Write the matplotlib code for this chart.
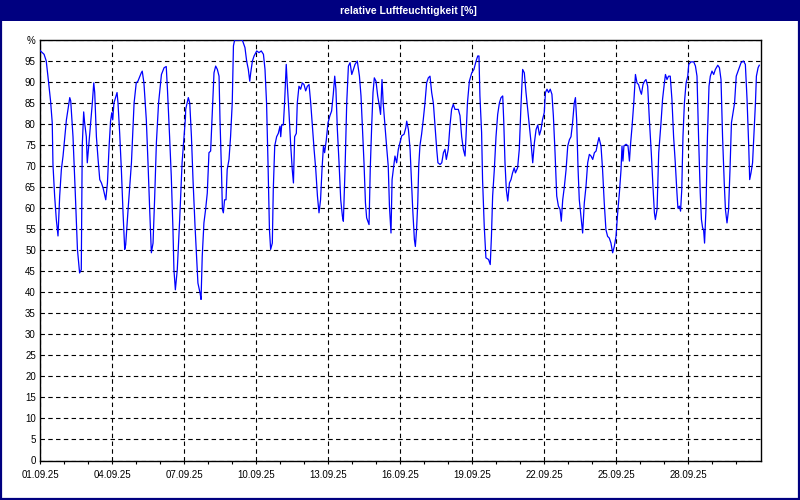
import matplotlib.pyplot as plt
from matplotlib.patches import Rectangle

# Tage seit 01.09.25 00:00 und relative Luftfeuchtigkeit in %
tage = [
    0.0, 0.17, 0.26, 0.33, 0.44, 0.51, 0.54, 0.61, 0.68, 0.75, 0.82, 0.89, 0.96,
    1.1, 1.24, 1.28, 1.375, 1.47, 1.56, 1.65, 1.72, 1.76, 1.82, 1.86, 1.93, 1.97,
    2.03, 2.11, 2.18, 2.24, 2.28, 2.35, 2.42, 2.49, 2.56, 2.63, 2.69, 2.74, 2.81,
    2.88, 2.94, 2.99, 3.03, 3.08, 3.21, 3.25, 3.32, 3.39, 3.46, 3.53, 3.57, 3.67,
    3.81, 3.92, 4.01, 4.08, 4.22, 4.26, 4.33, 4.43, 4.5, 4.57, 4.64, 4.71, 4.78,
    4.85, 4.94, 5.06, 5.17, 5.26, 5.31, 5.4, 5.47, 5.54, 5.58, 5.64, 5.72, 5.82,
    5.92, 5.99, 6.06, 6.07, 6.18, 6.24, 6.31, 6.375, 6.46, 6.53, 6.58, 6.67, 6.71,
    6.76, 6.83, 6.9, 6.97, 7.04, 7.11, 7.18, 7.25, 7.32, 7.39, 7.46, 7.5, 7.56,
    7.6, 7.64, 7.69, 7.75, 7.8, 7.875, 7.94, 8.01, 8.06, 8.11, 8.43, 8.54, 8.61,
    8.68, 8.74, 8.78, 8.85, 8.92, 9.03, 9.125, 9.22, 9.31, 9.375, 9.44, 9.5, 9.56,
    9.61, 9.68, 9.72, 9.78, 9.86, 9.93, 10.0, 10.03, 10.07, 10.14, 10.19, 10.26,
    10.3, 10.375, 10.44, 10.51, 10.56, 10.61, 10.68, 10.72, 10.79, 10.86, 10.93,
    11.0, 11.07, 11.14, 11.21, 11.28, 11.35, 11.42, 11.49, 11.56, 11.625, 11.69,
    11.75, 11.81, 11.86, 11.93, 12.0, 12.08, 12.15, 12.22, 12.28, 12.33, 12.39,
    12.46, 12.53, 12.6, 12.64, 12.71, 12.78, 12.85, 12.92, 12.99, 13.06, 13.125,
    13.22, 13.31, 13.375, 13.44, 13.5, 13.56, 13.61, 13.71, 13.76, 13.82, 13.875,
    13.93, 14.0, 14.07, 14.14, 14.19, 14.25, 14.3, 14.375, 14.44, 14.51, 14.56,
    14.625, 14.67, 14.72, 14.79, 14.86, 14.93, 15.0, 15.07, 15.17, 15.24, 15.28,
    15.35, 15.42, 15.47, 15.53, 15.6, 15.64, 15.69, 15.74, 15.78, 15.83, 15.9,
    15.97, 16.04, 16.11, 16.18, 16.25, 16.32, 16.39, 16.46, 16.53, 16.58, 16.67,
    16.74, 16.81, 16.875, 16.93, 17.01, 17.08, 17.15, 17.22, 17.29, 17.43, 17.5,
    17.57, 17.64, 17.71, 17.75, 17.81, 17.89, 17.99, 18.08, 18.17, 18.24, 18.29,
    18.33, 18.4, 18.44, 18.51, 18.58, 18.69, 18.76, 18.81, 18.86, 18.93, 19.0,
    19.07, 19.14, 19.21, 19.28, 19.32, 19.375, 19.43, 19.49, 19.56, 19.625, 19.69,
    19.76, 19.81, 19.9, 19.97, 20.04, 20.11, 20.18, 20.25, 20.32, 20.39, 20.46,
    20.53, 20.6, 20.67, 20.74, 20.81, 20.875, 20.94, 21.01, 21.06, 21.125, 21.19,
    21.26, 21.33, 21.39, 21.46, 21.53, 21.6, 21.67, 21.72, 21.78, 21.85, 21.92,
    21.99, 22.06, 22.125, 22.19, 22.26, 22.31, 22.36, 22.42, 22.47, 22.54, 22.61,
    22.68, 22.75, 22.82, 22.89, 22.96, 23.03, 23.1, 23.17, 23.24, 23.29, 23.375,
    23.44, 23.51, 23.58, 23.65, 23.72, 23.79, 23.86, 23.93, 24.0, 24.07, 24.14,
    24.21, 24.25, 24.29, 24.33, 24.42, 24.5, 24.56, 24.6, 24.67, 24.74, 24.81,
    24.875, 24.94, 25.01, 25.06, 25.125, 25.19, 25.25, 25.32, 25.39, 25.47, 25.54,
    25.6, 25.64, 25.71, 25.78, 25.875, 25.94, 26.0, 26.06, 26.125, 26.19, 26.26,
    26.33, 26.4, 26.47, 26.54, 26.58, 26.64, 26.69, 26.74, 26.79, 26.85, 26.92,
    26.99, 27.03, 27.125, 27.24, 27.31, 27.375, 27.44, 27.51, 27.56, 27.61, 27.65,
    27.69, 27.75, 27.81, 27.875, 27.93, 28.0, 28.07, 28.14, 28.24, 28.31, 28.375,
    28.44, 28.51, 28.56, 28.625, 28.69, 28.75, 28.81, 28.875, 28.94, 29.01, 29.11,
    29.21, 29.31, 29.39, 29.46, 29.53, 29.57, 29.625, 29.69, 29.75, 29.81, 29.85,
    29.92, 29.97,
]
feuchte = [
    97.5, 96.6, 95, 91.4, 85.5, 80.3, 70.4, 62.9, 57.3, 53.4, 62.9, 69.2, 72.4,
    81, 86.3, 85.5, 77, 63.6, 50.2, 44.6, 45.4, 74.8, 82.9, 80.3, 77, 70.8,
    74.8, 80.3, 85, 89.8, 87.5, 77, 71.6, 66.8, 66, 64.8, 63.3, 62, 66,
    74.8, 80.7, 82.7, 81, 85, 87.5, 85, 77.8, 69.2, 58.9, 50.2, 51.3, 59.7,
    70.8, 85, 89.8, 90.2, 92.2, 92.6, 89.8, 81, 70.8, 59.7, 49.4, 51.7, 62.9,
    75.6, 85, 91.8, 93.4, 93.7, 88.3, 77, 67.6, 54.9, 45.4, 40.6, 45.4, 57.3,
    70.8, 76.3, 81.5, 83.5, 86.3, 85, 77, 66.8, 55.7, 47.8, 42.2, 39.8, 38.3,
    48.6, 56.5, 59.7, 63.6, 73.2, 73.6, 82.7, 92.2, 93.8, 93, 91.4, 81, 69.2,
    59.7, 58.9, 62, 62, 69.2, 71.6, 77, 85, 98.6, 100, 100, 98.2, 95,
    93, 90.2, 92.2, 95, 96.2, 97.4, 97, 97.4, 96.6, 93, 85, 70.8, 54.9,
    50.2, 51.7, 64.4, 74.8, 77, 77.8, 79.5, 77, 79.8, 79.8, 85, 94.2,
    89.8, 82.7, 75.6, 69.2, 66, 77, 77.8, 85, 89, 88.3, 89.8,
    89.4, 87.9, 89, 89.4, 85, 79.5, 74, 69.2, 62.9, 58.9, 62,
    69.2, 74.8, 73.2, 76.3, 80.3, 82, 83.1, 87.1, 91.4, 88.3, 78.7,
    70.8, 62, 58.1, 56.9, 69.2, 85, 93.8, 94.6, 91.8, 93, 94.2,
    95, 91.4, 86.7, 78.7, 70.8, 61.3, 57.7, 56.1, 69.2, 79.5, 87.5,
    91, 90.2, 86.7, 84.3, 82.3, 90.6, 85, 79.5, 74.8, 70, 60.5,
    54.1, 66.8, 69.2, 72.4, 70.8, 74, 75.6, 77.2, 77.6, 79.1, 80.7,
    78.7, 74, 67.6, 59.7, 52.5, 50.9, 54.9, 61.3, 70, 74.8, 77.6,
    81.1, 85, 89.8, 91, 91.4, 87.5, 85, 79.5, 74, 70.8, 70.4,
    70.8, 73.2, 74, 71.6, 74, 79.5, 83.5, 84.7, 83.5, 83.5, 82,
    77, 74, 72.4, 77, 85, 90.2, 92.2, 93, 95, 96.2, 96.2,
    86.7, 78, 66.8, 55.7, 48.2, 47.8, 46.6, 53.3, 62.9, 69.2, 77,
    82.3, 85, 86.3, 86.7, 81.1, 70.8, 64.4, 61.7, 66, 66.8, 68.4,
    69.6, 68.4, 69.6, 74, 84.3, 93, 92.2, 87.5, 83.5, 79.5, 75.6,
    70.8, 75.6, 78.7, 79.8, 77.4, 78.7, 81.1, 82.7, 87.5, 88.3, 87.5,
    88.3, 87.1, 82, 73.2, 62.9, 60.5, 59.7, 56.9, 62, 65.2, 69.2,
    74.8, 76.3, 77, 80.3, 85, 86.3, 81.1, 69.2, 62, 58.1, 54.1,
    61.3, 65.2, 70.8, 72.8, 72.4, 71.6, 73.2, 73.6, 75.6, 76.8, 74.8,
    69.2, 61.3, 54.9, 53.3, 52.9, 51.7, 49.4, 50.9, 53.3, 58.9, 63.6,
    69.2, 74.8, 71.2, 74.8, 75.2, 74.8, 71.2, 74.8, 79.5, 85, 91.8,
    89.8, 89.4, 87.9, 87.1, 89.4, 90.2, 90.6, 89, 81.1, 73.2, 65.2,
    58.9, 57.3, 59.7, 73.2, 80.3, 85.9, 89, 91.8, 90.6, 91.4, 91.4,
    85.9, 77, 70.8, 63.6, 60, 60.5, 59.3, 64.4, 77, 85, 89.8,
    91.4, 94.2, 94.8, 94.8, 93.8, 91.4, 77, 63.6, 57.3, 55.3, 54.9,
    51.7, 60, 77, 89, 91.4, 92.6, 91.8, 93, 94, 93.4, 90.6,
    77, 66, 59.7, 56.5, 59.7, 69.2, 80.3, 82.7, 85, 91.4, 93,
    94.6, 95, 94.2, 85.9, 74.8, 66.8, 68.4, 70.8, 77.9, 85, 91.4,
    93.4, 94,
]

datum_ticks = [0, 3, 6, 9, 12, 15, 18, 21, 24, 27]
datum_labels = ['01.09.25', '04.09.25', '07.09.25', '10.09.25', '13.09.25',
                '16.09.25', '19.09.25', '22.09.25', '25.09.25', '28.09.25']
y_ticks = list(range(0, 101, 5))
y_labels = [str(v) for v in y_ticks[:-1]] + ['%']

plt.rcParams['font.family'] = ['Liberation Sans', 'DejaVu Sans']

fig = plt.figure(figsize=(8, 5), dpi=100, facecolor='white')

# Titelleiste und Rahmen
fig.patches.append(Rectangle((0, 0.958), 1, 0.042, transform=fig.transFigure,
                             facecolor='#000080', edgecolor='none', zorder=0))
fig.patches.append(Rectangle((0.001, 0.002), 0.998, 0.997, transform=fig.transFigure,
                             facecolor='none', edgecolor='#000080', lw=1.6, zorder=5))
fig.text(0.51, 0.979, 'relative Luftfeuchtigkeit [%]', color='white',
         fontsize=7.5, fontweight='bold', ha='center', va='center')

ax = fig.add_axes([0.05, 0.079, 0.9012, 0.841])
ax.plot(tage, feuchte, color='#0000ff', lw=0.9, zorder=3)

ax.set_xlim(0, 30.04)
ax.set_ylim(0, 100)
ax.set_xticks(datum_ticks)
ax.set_xticklabels(datum_labels)
ax.set_xticks(range(0, 30), minor=True)
ax.set_yticks(y_ticks)
ax.set_yticklabels(y_labels)

ax.tick_params(axis='x', which='both', direction='out', length=2.5, width=0.8,
               pad=4, labelsize=7)
ax.tick_params(axis='y', length=0, pad=3, labelsize=7)

ax.grid(True, color='black', lw=0.8, linestyle=(0, (4, 3)))
for sp in ax.spines.values():
    sp.set_linewidth(1.0)
    sp.set_color('black')

fig.savefig('out.png', dpi=100)
